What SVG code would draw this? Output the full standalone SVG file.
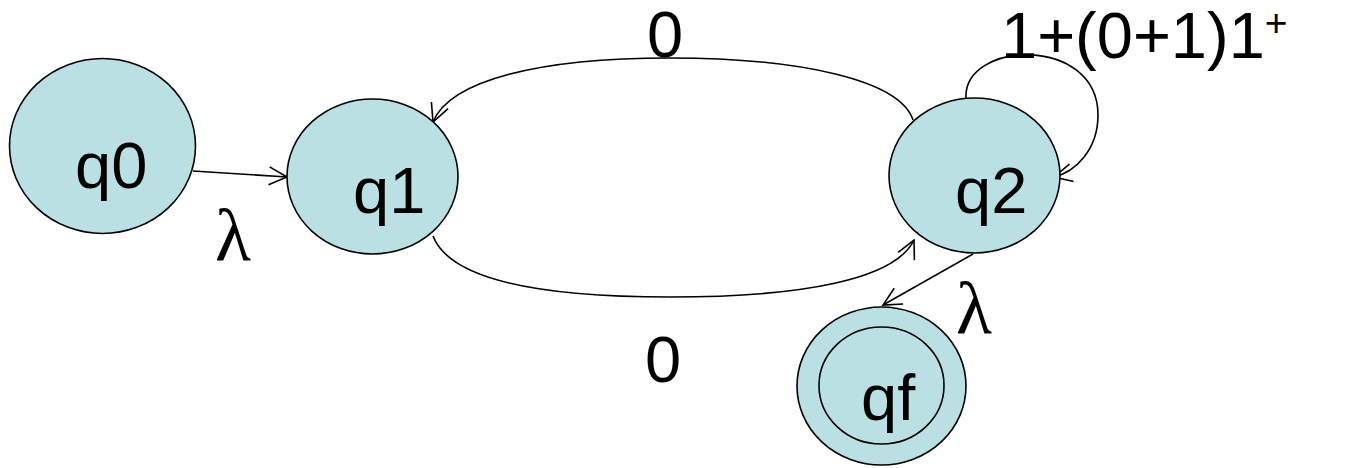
<svg xmlns="http://www.w3.org/2000/svg" width="1365" height="468" viewBox="0 0 1365 468">
<style>
.node{fill:#BBE0E3;stroke:#000;stroke-width:1.6}
.lbl{font-family:"Liberation Sans",Arial,sans-serif;font-size:65px;fill:#000}
.lam{font-family:"Liberation Serif","Times New Roman",serif;font-size:74px;fill:#000}
.edge{fill:none;stroke:#000;stroke-width:1.6}
</style>
<defs>
<marker id="arr" markerUnits="userSpaceOnUse" markerWidth="22" markerHeight="22" viewBox="0 0 22 22" refX="20" refY="11" orient="auto">
<path d="M2,2 L20,11 L2,20" fill="none" stroke="#000" stroke-width="1.6"/>
</marker>
</defs>
<rect width="1365" height="468" fill="#fff"/>
<g id="connectors">
<path class="edge" d="M193,171 L287,177" marker-end="url(#arr)"/>
<path class="edge" d="M913,120 C900,80 800,58 670,58 C540,58 450,80 433,122" marker-end="url(#arr)"/>
<path class="edge" d="M433,236 C450,280 540,297 670,297 C800,297 895,280 914,240" marker-end="url(#arr)"/>
<path class="edge" d="M966,99 C962,40 1098,35 1098,115 C1098,150 1075,172 1054,177" marker-end="url(#arr)"/>
<path class="edge" d="M973,254 L883,305" marker-end="url(#arr)"/>
</g>
<g id="edge-labels">
<text class="lbl" x="647" y="57" font-size="58">0</text>
<text class="lbl" x="645" y="382">0</text>
<text class="lbl" x="1001" y="58">1+(0+1)1<tspan font-size="39" dy="-22">+</tspan></text>
<text class="lam" x="215" y="260">λ</text>
<text class="lam" x="956" y="333">λ</text>
</g>
<g id="q0">
<ellipse class="node" cx="102.5" cy="146" rx="93" ry="87.5"/>
<text class="lbl" x="75" y="188">q0</text>
</g>
<g id="q1">
<ellipse class="node" cx="372.5" cy="176.5" rx="85.5" ry="77.5"/>
<text class="lbl" x="353" y="213">q1</text>
</g>
<g id="q2">
<ellipse class="node" cx="974.5" cy="175.5" rx="85.5" ry="77.5"/>
<text class="lbl" x="955" y="213">q2</text>
</g>
<g id="qf">
<ellipse class="node" cx="881.5" cy="386" rx="84.5" ry="79"/>
<ellipse class="node" cx="881.5" cy="385.5" rx="62.5" ry="58.5"/>
<text class="lbl" x="861" y="420">qf</text>
</g>
</svg>
